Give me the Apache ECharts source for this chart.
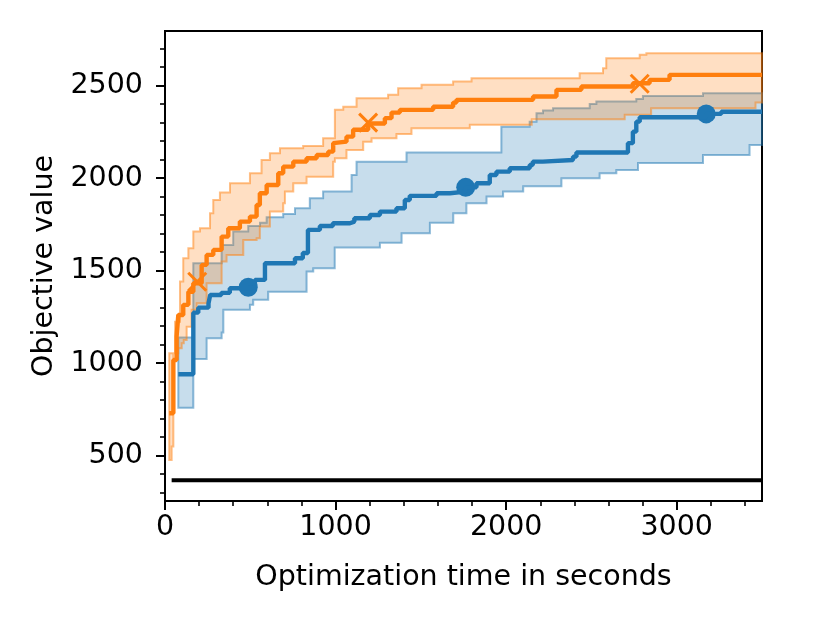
<!DOCTYPE html>
<html>
<head>
<meta charset="utf-8">
<script src="https://cdn.jsdelivr.net/npm/echarts@6/dist/echarts.min.js"></script>
<style>
  html, body { margin: 0; padding: 0; background: #fff; }
  #chart { width: 830px; height: 623px; }
</style>
</head>
<body>
<div id="chart"></div>
<script>
// ======================= data =======================
const xMax = 3500
const xMajorTicks = [0, 1000, 2000, 3000]
const xMinorTicks = [200, 400, 600, 800, 1200, 1400, 1600, 1800, 2200, 2400, 2600, 2800, 3200, 3400]
const yMajorTicks = [500, 1000, 1500, 2000, 2500]
const yMinorTicks = [300, 400, 600, 700, 800, 900, 1100, 1200, 1300, 1400, 1600, 1700, 1800, 1900,
  2100, 2200, 2300, 2400, 2600, 2700]

// blue: median (steps) + band
const blueX = [78, 166, 195, 255, 265, 330, 380, 488, 527, 586, 762, 808, 838, 908, 984, 1084, 1110, 1201,
  1260, 1357, 1406, 1435, 1592, 1670, 1763, 1826, 1904, 1943, 2021, 2138, 2156, 2215, 2392, 2412, 2714,
  2743, 2763, 2783, 3173, 3261]
const blueY = [940, 1273, 1300, 1324, 1368, 1380, 1405, 1410, 1450, 1540, 1567, 1595, 1720, 1741, 1756, 1765,
  1783, 1801, 1819, 1837, 1882, 1904, 1918, 1927, 1950, 1972, 2017, 2035, 2053, 2071, 2089, 2098, 2116,
  2138, 2189, 2251, 2305, 2329, 2347, 2359]
const blueUpX = [78, 166, 332, 400, 488, 557, 596, 693, 762, 849, 927, 1094, 1123, 1416, 1972, 2138, 2178,
  2216, 2275, 2490, 2529, 2763, 2802, 3154]
const blueUpY = [1138, 1540, 1639, 1711, 1741, 1759, 1789, 1806, 1837, 1891, 1927, 2017, 2089, 2138, 2278,
  2305, 2351, 2365, 2378, 2401, 2414, 2427, 2444, 2459]
const blueLoX = [78, 166, 244, 332, 342, 498, 517, 605, 830, 869, 995, 1260, 1387, 1553, 1690, 1767, 1885,
  1982, 2100, 2324, 2548, 2646, 2773, 3154, 3427]
const blueLoY = [759, 1023, 1135, 1165, 1288, 1315, 1342, 1386, 1495, 1513, 1625, 1651, 1702, 1759, 1810,
  1864, 1900, 1927, 1956, 1999, 2026, 2044, 2081, 2125, 2179]
const blueMarkX = [488, 1763, 3173]
const blueMarkY = [1410, 1950, 2347]

// orange: median (steps) + band
const orangeX = [25, 49, 68, 78, 107, 137, 166, 215, 244, 283, 332, 371, 439, 498, 537, 556, 596, 664, 693,
  752, 830, 889, 957, 986, 996, 1064, 1103, 1191, 1289, 1328, 1377, 1572, 1689, 1709, 2158, 2295, 2441,
  2743, 2841, 2958]
const orangeY = [729, 1017, 1143, 1260, 1315, 1386, 1432, 1531, 1585, 1612, 1684, 1729, 1765, 1792, 1855,
  1918, 1963, 2026, 2062, 2089, 2107, 2125, 2143, 2189, 2197, 2224, 2261, 2295, 2324, 2354, 2369, 2386,
  2408, 2423, 2441, 2477, 2495, 2513, 2531, 2558]
const orangeUpX = [25, 59, 88, 107, 137, 166, 205, 264, 283, 322, 381, 498, 566, 615, 674, 810, 927, 996,
  1045, 1123, 1308, 1367, 1504, 1689, 1797, 2431, 2568, 2587, 2783, 2822]
const orangeUpY = [1053, 1224, 1441, 1567, 1621, 1711, 1729, 1810, 1882, 1922, 1972, 2026, 2098, 2135, 2161,
  2174, 2216, 2369, 2386, 2432, 2450, 2486, 2504, 2522, 2540, 2567, 2594, 2648, 2666, 2675]
const orangeLoX = [25, 39, 49, 78, 98, 110, 127, 156, 186, 244, 332, 361, 459, 537, 556, 615, 693, 703, 752,
  830, 986, 996, 1064, 1162, 1211, 1357, 1445, 1787, 2150, 2695, 2850, 3462]
const orangeLoY = [477, 549, 1053, 1080, 1107, 1125, 1197, 1288, 1324, 1432, 1549, 1585, 1666, 1675, 1738,
  1819, 1864, 1927, 1972, 2008, 2089, 2107, 2152, 2197, 2216, 2239, 2270, 2288, 2318, 2342, 2378, 2408]
const orangeMarkX = [189, 1191, 2783]
const orangeMarkY = [1440, 2300, 2510]

// black reference line
const baseX = [39, 3500]
const baseY = 367

const blue = '#1f77b4'
const orange = '#ff7f0e'
const font = 'DejaVu Sans'
const fs = 28.5

// step-post points, extended to the right edge
function stepData(xs, ys) {
  let d = xs.map((x, i) => [x, ys[i]])
  d.push([xMax, ys[ys.length - 1]])
  return d
}
function stepPath(xs, ys) {
  let pts = []
  for (let i = 0; i < xs.length; i++) {
    if (i > 0) pts.push([xs[i], ys[i - 1]])
    pts.push([xs[i], ys[i]])
  }
  pts.push([xMax, ys[ys.length - 1]])
  return pts
}
// filled band between the two step curves
function bandSeries(upX, upY, loX, loY, rgb) {
  return {
    type: 'custom',
    silent: true,
    data: [[0, 0]],
    renderItem: function (params, api) {
      let pts = stepPath(upX, upY).concat(stepPath(loX, loY).reverse())
      return {
        type: 'polygon',
        shape: { points: pts.map(p => api.coord(p)) },
        style: {
          fill: 'rgba(' + rgb + ',0.25)',
          stroke: 'rgba(' + rgb + ',0.5)',
          lineWidth: 2
        }
      }
    }
  }
}
function lineSeries(xs, ys, color) {
  return {
    type: 'line',
    step: 'end',
    showSymbol: false,
    silent: true,
    data: stepData(xs, ys),
    lineStyle: { color: color, width: 4.4 }
  }
}
const plain = v => String(v)

let myChart = echarts.init(document.getElementById('chart'))
let option = {
  animation: false,
  grid: {
    left: 165, right: 68, top: 31, bottom: 122,
    show: true, borderColor: '#000', borderWidth: 2, backgroundColor: 'transparent'
  },
  xAxis: [
    {
      type: 'value', min: 0, max: xMax,
      name: 'Optimization time in seconds',
      nameLocation: 'middle', nameGap: 62,
      nameTextStyle: { fontFamily: font, fontSize: fs, color: '#000' },
      axisLine: { show: true, lineStyle: { color: '#000', width: 2 } },
      axisTick: { show: true, length: 9, customValues: xMajorTicks, lineStyle: { color: '#000', width: 2 } },
      axisLabel: { customValues: xMajorTicks, formatter: plain, margin: 12, fontFamily: font, fontSize: fs, color: '#000' },
      splitLine: { show: false }
    },
    {
      type: 'value', min: 0, max: xMax, position: 'bottom',
      axisLine: { show: false },
      axisTick: { show: true, length: 5, customValues: xMinorTicks, lineStyle: { color: '#000', width: 1.6 } },
      axisLabel: { show: false },
      splitLine: { show: false }
    }
  ],
  yAxis: [
    {
      type: 'value', min: 255, max: 2795,
      name: 'Objective value',
      nameLocation: 'middle', nameGap: 95,
      nameTextStyle: { fontFamily: font, fontSize: fs, color: '#000' },
      axisLine: { show: true, lineStyle: { color: '#000', width: 2 } },
      axisTick: { show: true, length: 9, customValues: yMajorTicks, lineStyle: { color: '#000', width: 2 } },
      axisLabel: { customValues: yMajorTicks, formatter: plain, margin: 22, fontFamily: font, fontSize: fs, color: '#000' },
      splitLine: { show: false }
    },
    {
      type: 'value', min: 255, max: 2795, position: 'left',
      axisLine: { show: false },
      axisTick: { show: true, length: 5, customValues: yMinorTicks, lineStyle: { color: '#000', width: 1.6 } },
      axisLabel: { show: false },
      splitLine: { show: false }
    }
  ],
  series: [
    {
      type: 'line', silent: true, showSymbol: false,
      data: baseX.map(x => [x, baseY]),
      lineStyle: { color: '#000', width: 4 }
    },
    bandSeries(blueUpX, blueUpY, blueLoX, blueLoY, '31,119,180'),
    lineSeries(blueX, blueY, blue),
    {
      type: 'scatter', silent: true,
      symbol: 'circle', symbolSize: 19,
      data: blueMarkX.map((x, i) => [x, blueMarkY[i]]),
      itemStyle: { color: blue, opacity: 1 }
    },
    bandSeries(orangeUpX, orangeUpY, orangeLoX, orangeLoY, '255,127,14'),
    lineSeries(orangeX, orangeY, orange),
    {
      type: 'scatter', silent: true,
      symbol: 'path://M0,0L10,10M10,0L0,10', symbolSize: 18,
      data: orangeMarkX.map((x, i) => [x, orangeMarkY[i]]),
      itemStyle: { color: 'none', borderColor: orange, borderWidth: 3, opacity: 1 }
    }
  ]
}
myChart.setOption(option)
</script>
</body>
</html>
